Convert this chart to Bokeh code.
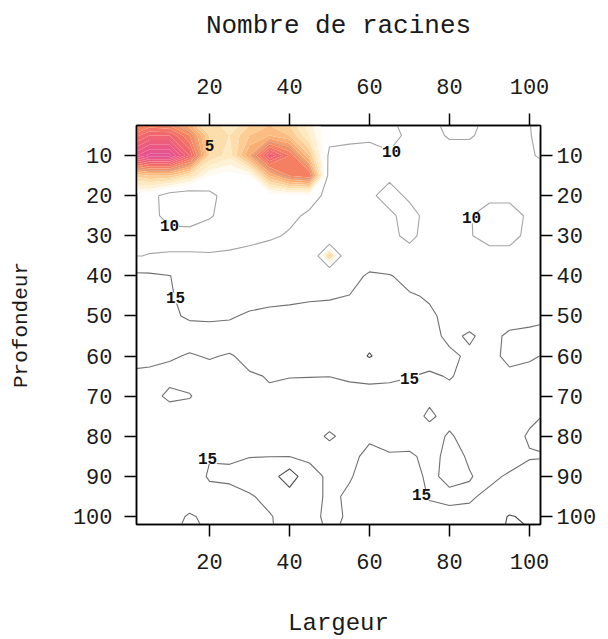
import numpy as np
from bokeh.plotting import figure
from bokeh.models import Range1d, LinearAxis, FixedTicker
from bokeh.core.properties import value
from bokeh.embed import file_html
from bokeh.resources import INLINE

# Grid positions (cm): width across, depth down
largeur = [0, 5, 10, 15, 20, 25, 30, 35, 40, 45, 50, 55, 60, 65, 70, 75, 80, 85, 90, 95, 100, 105]
profondeur = [0, 5, 10, 15, 20, 25, 30, 35, 40, 45, 50, 55, 60, 65, 70, 75, 80, 85, 90, 95, 100, 105]

# Root counts, one list per depth row (columns follow `largeur`)
r000 = [5.0, 5.5, 6.0, 7.0, 7.5, 8.0, 7.5, 7.0, 7.5, 8.5, 9.5, 9.7, 9.8, 9.9, 10.5, 10.3, 9.3, 9.3, 10.4, 10.4, 10.05, 6.5]
r005 = [4.0, 3.0, 3.0, 4.5, 7.0, 7.5, 6.5, 6.0, 6.5, 8.0, 9.6, 9.7, 9.8, 9.7, 10.2, 10.6, 9.8, 9.8, 10.6, 10.5, 10.2, 8.0]
r010 = [2.0, 0.8, 0.8, 3.0, 7.0, 7.8, 5.5, 2.5, 4.0, 6.5, 10.3, 10.4, 10.4, 10.1, 10.8, 11.0, 10.8, 10.8, 11.0, 10.8, 10.2, 9.5]
r015 = [7.0, 6.5, 6.5, 7.5, 9.0, 9.3, 9.0, 6.0, 4.5, 4.0, 10.6, 10.8, 10.3, 10.2, 10.6, 11.0, 11.0, 10.9, 10.6, 10.6, 10.8, 10.5]
r020 = [9.2, 9.5, 10.6, 10.8, 10.3, 9.5, 9.5, 9.4, 9.3, 9.3, 10.5, 10.6, 10.2, 9.6, 10.2, 10.8, 10.8, 10.6, 10.4, 10.4, 10.6, 10.8]
r025 = [9.4, 9.6, 10.4, 10.5, 10.1, 9.6, 9.6, 9.5, 9.6, 10.3, 10.8, 10.8, 10.3, 10.2, 9.6, 10.4, 10.8, 10.1, 9.3, 9.3, 10.3, 10.8]
r030 = [9.6, 9.6, 9.6, 9.6, 9.5, 9.5, 9.6, 9.7, 10.2, 10.8, 12.5, 11.2, 11.0, 10.3, 9.7, 10.5, 11.0, 10.1, 9.5, 9.5, 10.4, 11.0]
r035 = [9.9, 10.05, 10.1, 10.1, 10.1, 10.2, 10.4, 11.0, 11.2, 12.5, 6.5, 12.5, 11.8, 11.0, 10.5, 10.8, 11.2, 10.8, 10.5, 10.5, 10.8, 11.2]
r040 = [16.0, 15.8, 15.1, 13.5, 13.0, 12.8, 12.8, 12.8, 12.6, 12.5, 12.5, 13.0, 15.8, 15.3, 13.5, 12.8, 12.5, 12.3, 12.2, 12.0, 12.0, 12.0]
r045 = [16.5, 16.0, 15.3, 14.0, 13.5, 13.5, 13.8, 14.0, 14.2, 14.5, 14.6, 15.1, 17.0, 16.5, 15.4, 14.6, 13.5, 13.0, 12.8, 12.5, 12.5, 12.5]
r050 = [17.0, 16.5, 15.4, 14.7, 14.6, 14.7, 15.4, 15.8, 16.0, 16.2, 16.5, 17.0, 17.5, 17.2, 16.5, 15.6, 14.0, 13.5, 13.0, 13.5, 14.0, 14.5]
r055 = [17.0, 16.8, 16.5, 16.0, 16.0, 16.2, 16.8, 17.0, 17.2, 17.3, 17.5, 18.0, 18.5, 18.0, 17.3, 16.0, 14.3, 15.4, 14.0, 15.6, 15.8, 16.0]
r060 = [16.0, 15.6, 15.3, 14.8, 15.2, 14.8, 15.6, 16.5, 16.8, 17.0, 17.2, 18.0, 20.3, 18.0, 16.8, 16.2, 15.6, 14.5, 14.3, 15.6, 15.2, 14.8]
r065 = [14.5, 14.5, 14.2, 13.8, 14.0, 14.3, 14.8, 15.1, 15.1, 15.1, 15.05, 15.6, 15.8, 15.5, 15.1, 14.6, 15.2, 14.2, 13.5, 14.5, 14.5, 14.0]
r070 = [13.0, 14.0, 15.6, 15.2, 13.5, 13.5, 14.0, 14.8, 14.0, 13.5, 13.5, 13.5, 13.8, 14.0, 14.0, 14.5, 14.2, 13.5, 13.5, 14.0, 14.0, 14.0]
r075 = [12.5, 12.8, 13.5, 13.5, 13.0, 13.0, 13.2, 13.5, 13.5, 13.5, 14.0, 13.8, 13.5, 13.8, 14.0, 15.4, 14.2, 13.8, 14.0, 14.0, 14.5, 15.3]
r080 = [12.5, 12.5, 13.0, 13.2, 13.5, 14.0, 14.0, 14.0, 14.0, 14.2, 15.3, 14.3, 14.7, 14.2, 13.8, 14.0, 15.3, 14.0, 13.5, 14.0, 15.3, 16.0]
r085 = [13.0, 13.2, 13.5, 13.8, 14.9, 14.8, 14.9, 14.95, 14.9, 14.5, 14.0, 14.5, 15.5, 15.2, 15.4, 14.3, 15.6, 14.8, 13.8, 14.0, 14.8, 14.9]
r090 = [13.0, 13.5, 13.8, 14.0, 15.2, 15.3, 16.5, 17.5, 23.0, 16.0, 14.5, 14.8, 16.0, 16.5, 16.0, 14.5, 15.6, 15.1, 14.5, 15.3, 16.0, 16.0]
r095 = [13.5, 13.8, 14.0, 14.0, 14.4, 14.5, 14.7, 15.8, 17.5, 16.0, 14.5, 15.4, 16.5, 17.0, 16.5, 14.8, 14.5, 14.7, 15.5, 17.5, 17.0, 16.5]
r100 = [13.5, 14.0, 14.3, 15.2, 14.6, 14.2, 14.0, 14.8, 16.0, 15.5, 14.6, 15.2, 16.0, 16.5, 16.5, 15.8, 15.6, 15.6, 18.5, 20.2, 19.5, 18.0]
r105 = [13.5, 14.0, 14.5, 16.0, 14.8, 14.2, 14.0, 14.5, 16.5, 16.0, 14.8, 15.5, 16.0, 16.5, 16.5, 16.5, 16.2, 16.5, 19.0, 20.5, 20.3, 19.0]

# Axis ticks
ticks_largeur = [20, 40, 60, 80, 100]
ticks_profondeur = [10, 20, 30, 40, 50, 60, 70, 80, 90, 100]

# Contour lines and their labels
niveaux = [5, 10, 15, 20]
etiquettes_x = [10.0, 65.5, 85.5, 11.5, 70.0, 19.5, 73.0]
etiquettes_y = [27.5, 9.0, 25.5, 45.5, 65.5, 85.5, 94.5]
etiquettes_txt = ["10", "10", "10", "15", "15", "15", "15"]
etiquette5_x = [20.0]
etiquette5_y = [7.5]
etiquette5_txt = ["5"]

# Shading: colour anchors for low counts, white from 9 up
teinte_valeurs = [0.0, 1.5, 2.5, 3.5, 4.5, 5.5, 6.5, 7.5, 8.5, 9.0]
teinte_couleurs = ["#dc4c9c", "#e8568a", "#ee5e78", "#f26c68", "#f5875f",
                   "#f8a66c", "#fbc68c", "#fde5b6", "#fff5e0", "#ffffff"]


def melange(v):
    """Colour for count v, blended between the neighbouring anchors."""
    rgb = [[int(c[i:i + 2], 16) for i in (1, 3, 5)] for c in teinte_couleurs]
    canaux = [np.interp(v, teinte_valeurs, [c[k] for c in rgb]) for k in range(3)]
    return "#%02x%02x%02x" % tuple(int(round(c)) for c in canaux)


niveaux_teinte = [i * 0.5 for i in range(19)]          # 0, 0.5, ..., 9
teintes = [melange(a + 0.25) for a in niveaux_teinte[:-1]]

nombre = np.array([r000, r005, r010, r015, r020, r025, r030, r035, r040, r045, r050,
                   r055, r060, r065, r070, r075, r080, r085, r090, r095, r100, r105], dtype=float)
xx, yy = np.meshgrid(np.array(largeur, dtype=float), np.array(profondeur, dtype=float))

p = figure(width=608, height=639,
           x_range=Range1d(1.75, 102.75), y_range=Range1d(102.0, 2.5),
           output_backend="svg", toolbar_location=None,
           min_border_left=136, min_border_right=68,
           min_border_top=125, min_border_bottom=115,
           background_fill_color="white", border_fill_color="white")
p.xgrid.visible = False
p.ygrid.visible = False
p.outline_line_color = "black"
p.outline_line_width = 1.5

p.contour(xx, yy, nombre, levels=niveaux_teinte, fill_color=teintes, line_color=None)
p.contour(xx, yy, nombre, levels=niveaux, fill_color=None,
          line_color=["#b0a0a0", "#a4a4a4", "#707070", "#4a4a4a"],
          line_alpha=[0.45, 1.0, 1.0, 1.0], line_width=1.1)

p.text(x=etiquettes_x, y=etiquettes_y, text=etiquettes_txt,
       text_font=value("Liberation Mono"), text_font_style="bold", text_font_size="16px",
       text_align="center", text_baseline="middle", text_color="#111111",
       background_fill_color="white")
p.text(x=etiquette5_x, y=etiquette5_y, text=etiquette5_txt,
       text_font=value("Liberation Mono"), text_font_style="bold", text_font_size="16px",
       text_align="center", text_baseline="middle", text_color="#111111")

bas = p.below[0]
gauche = p.left[0]
haut = LinearAxis()
droite = LinearAxis()
p.add_layout(haut, "above")
p.add_layout(droite, "right")

bas.axis_label = "Largeur"
haut.axis_label = "Nombre de racines"
gauche.axis_label = "Profondeur"

for ax in (bas, haut):
    ax.ticker = FixedTicker(ticks=ticks_largeur)
for ax in (gauche, droite):
    ax.ticker = FixedTicker(ticks=ticks_profondeur)

for ax in (bas, haut, gauche, droite):
    ax.major_tick_out = 12
    ax.major_tick_in = 0
    ax.minor_tick_out = 0
    ax.minor_tick_in = 0
    ax.axis_line_color = "black"
    ax.axis_line_width = 1.5
    ax.major_tick_line_width = 1.5
    ax.major_label_text_font = "Liberation Mono"
    ax.major_label_text_font_size = "22px"
    ax.major_label_text_color = "#1a1a1a"
    ax.axis_label_text_font = "Liberation Mono"
    ax.axis_label_text_font_style = "normal"
    ax.axis_label_text_color = "#1a1a1a"

bas.major_label_standoff = 17
bas.axis_label_standoff = 38
bas.axis_label_text_font_size = "24px"
haut.major_label_standoff = 20
haut.axis_label_text_font_size = "26px"
haut.axis_label_standoff = 35
gauche.major_label_standoff = 12
gauche.axis_label_text_font_size = "21px"
gauche.axis_label_standoff = 37
droite.major_label_standoff = 4

open("out.html", "w").write(file_html(p, INLINE))
